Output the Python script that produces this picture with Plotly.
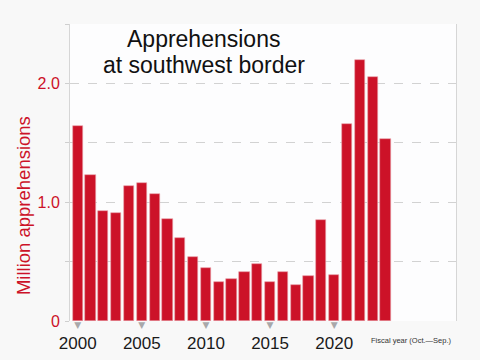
import plotly.graph_objects as go

years = list(range(2000, 2025))
apprehensions = [1.64, 1.23, 0.93, 0.905, 1.14, 1.16, 1.07, 0.855, 0.70, 0.54,
                 0.447, 0.327, 0.357, 0.41, 0.48, 0.33, 0.41, 0.30, 0.38, 0.85,
                 0.39, 1.66, 2.20, 2.05, 1.53]
x_ticks = [2000, 2005, 2010, 2015, 2020]
y_grid = [0, 0.5, 1.0, 1.5, 2.0, 2.5]
y_tick_labels = ["0", "", "1.0", "", "2.0", ""]

RED = "#cc1228"

fig = go.Figure()
fig.add_trace(go.Bar(
    x=years, y=apprehensions,
    marker=dict(color=RED, line=dict(color="#e8a0a8", width=0.6)),
    width=0.8, hoverinfo="x+y",
))
# gray triangle markers under the axis at labelled years
fig.add_trace(go.Scatter(
    x=x_ticks, y=[0] * len(x_ticks), mode="text",
    text=["\u25BC"] * len(x_ticks), textposition="bottom center",
    textfont=dict(size=9, color="#a8a8aa", family="DejaVu Sans"),
    cliponaxis=False, hoverinfo="skip",
))

fig.update_layout(
    width=480, height=360,
    margin=dict(l=70, r=24, t=24, b=39),
    paper_bgcolor="#f8f8f8", plot_bgcolor="#fdfdfe",
    showlegend=False, bargap=0,
    font=dict(family="Liberation Sans, Arial, sans-serif"),
    xaxis=dict(
        range=[1999.4, 2029.5], tickvals=x_ticks, ticktext=[str(v) for v in x_ticks],
        showgrid=False, zeroline=False, showline=False,
        ticks="", tickfont=dict(size=17, color="#1a1a1a"),
        ticklabelstandoff=10, automargin=False,
    ),
    yaxis=dict(
        range=[0, 2.5], tickvals=y_grid, ticktext=y_tick_labels,
        showgrid=True, gridcolor="#d2d2d2", griddash="dash", gridwidth=1,
        zeroline=False, showline=True, linecolor="#d6d6d6", mirror=True,
        ticks="outside", ticklen=4, tickcolor="#cfcfcf",
        tickfont=dict(size=16, color=RED), ticklabelstandoff=2,
        automargin=False,
    ),
    annotations=[
        dict(text="Apprehensions", xref="paper", yref="paper",
             x=0.346, y=0.950, xanchor="center", yanchor="middle", showarrow=False,
             font=dict(size=23, color="#111")),
        dict(text="at southwest border", xref="paper", yref="paper",
             x=0.346, y=0.862, xanchor="center", yanchor="middle", showarrow=False,
             font=dict(size=23, color="#111")),
        dict(text="Fiscal year (Oct.\u2014Sep.)", xref="paper", yref="paper",
             x=0.886, y=-0.067, xanchor="center", yanchor="middle", showarrow=False,
             font=dict(size=7.5, color="#333")),
        dict(text="Million apprehensions", xref="paper", yref="paper",
             x=-0.122, y=0.39, xanchor="center", yanchor="middle", showarrow=False,
             textangle=-90, font=dict(size=18.5, color=RED)),
    ],
)

fig.write_html("out.html", config={"displayModeBar": False},
               post_script="document.body.style.margin='0';")
